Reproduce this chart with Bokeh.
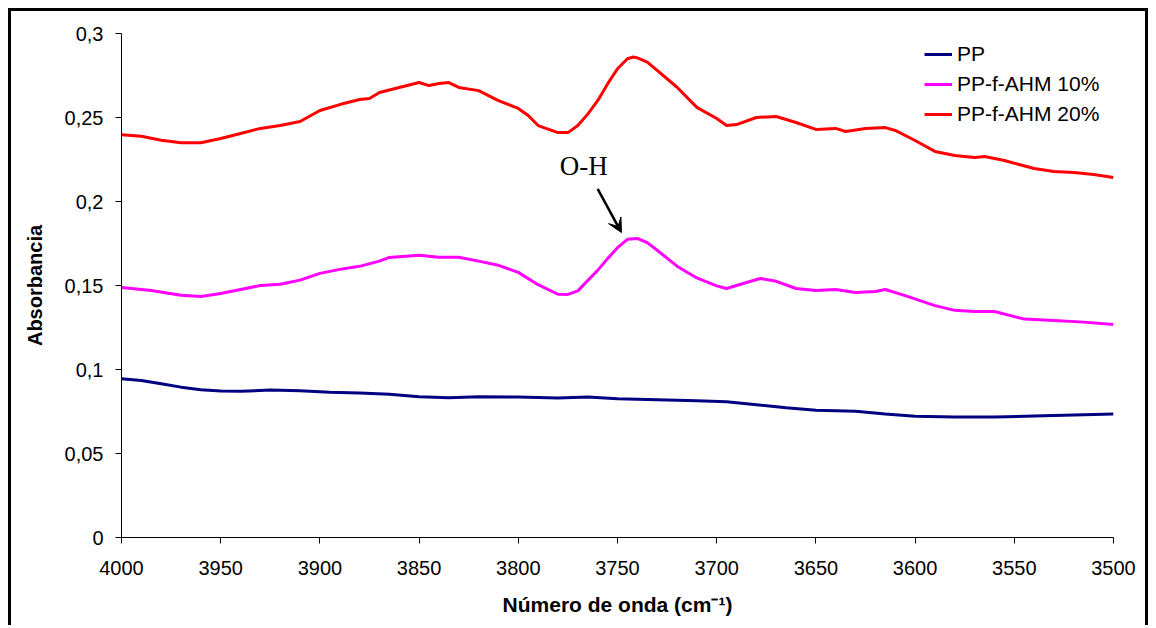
from bokeh.plotting import figure
from bokeh.models import (Range1d, FixedTicker, CustomJSTickFormatter, Legend, LegendItem,
                          Label, Arrow, VeeHead)
from bokeh.embed import file_html
from bokeh.resources import INLINE

# ---------------- data ----------------
x_ticks = [4000, 3950, 3900, 3850, 3800, 3750, 3700, 3650, 3600, 3550, 3500]
y_ticks = [0, 0.05, 0.1, 0.15, 0.2, 0.25, 0.3]

pp_x = [4000, 3990, 3980, 3970, 3960, 3950, 3940, 3925, 3910, 3895, 3880, 3865, 3850,
        3835, 3820, 3800, 3780, 3765, 3750, 3730, 3710, 3695, 3680, 3665, 3650, 3630,
        3615, 3600, 3580, 3560, 3540, 3520, 3500]
pp_y = [0.0945, 0.0935, 0.0915, 0.0895, 0.0880, 0.0872, 0.0870, 0.0878, 0.0873, 0.0864,
        0.0860, 0.0853, 0.0838, 0.0832, 0.0838, 0.0836, 0.0830, 0.0836, 0.0826, 0.0820,
        0.0814, 0.0808, 0.0790, 0.0772, 0.0758, 0.0752, 0.0735, 0.0722, 0.0717, 0.0717,
        0.0723, 0.0729, 0.0735]

pp10_x = [4000, 3985, 3970, 3960, 3950, 3940, 3930, 3920, 3910, 3900, 3890, 3880, 3870,
          3865, 3850, 3840, 3830, 3820, 3810, 3800, 3790, 3780, 3775, 3770, 3765, 3760,
          3755, 3750, 3745, 3740, 3735, 3730, 3720, 3710, 3700, 3695, 3685, 3678, 3670,
          3660, 3650, 3640, 3630, 3620, 3615, 3605, 3590, 3580, 3570, 3560, 3545, 3530,
          3515, 3500]
pp10_y = [0.1488, 0.1470, 0.1442, 0.1435, 0.1452, 0.1476, 0.1500, 0.1508, 0.1532, 0.1572,
          0.1596, 0.1614, 0.1645, 0.1667, 0.1680, 0.1668, 0.1668, 0.1645, 0.1620, 0.1578,
          0.1505, 0.1448, 0.1447, 0.1468, 0.1530, 0.1590, 0.1660, 0.1725, 0.1775, 0.1780,
          0.1755, 0.1710, 0.1615, 0.1545, 0.1498, 0.1482, 0.1518, 0.1542, 0.1525, 0.1482,
          0.1470, 0.1476, 0.1458, 0.1464, 0.1476, 0.1440, 0.1380, 0.1352, 0.1345, 0.1345,
          0.1300, 0.1292, 0.1282, 0.1268]

pp20_x = [4000, 3990, 3980, 3970, 3960, 3950, 3940, 3930, 3920, 3910, 3900, 3890, 3880,
          3875, 3870, 3860, 3850, 3845, 3840, 3835, 3830, 3820, 3810, 3800, 3795, 3790,
          3780, 3775, 3770, 3765, 3760, 3755, 3750, 3745, 3742, 3740, 3735, 3730, 3720,
          3710, 3700, 3695, 3690, 3680, 3670, 3660, 3650, 3640, 3635, 3625, 3615, 3610,
          3600, 3590, 3580, 3570, 3565, 3555, 3540, 3530, 3520, 3510, 3500]
pp20_y = [0.2398, 0.2388, 0.2365, 0.2350, 0.2350, 0.2375, 0.2405, 0.2435, 0.2452, 0.2476,
          0.2542, 0.2577, 0.2607, 0.2613, 0.2649, 0.2679, 0.2708, 0.2690, 0.2702, 0.2708,
          0.2679, 0.2660, 0.2600, 0.2554, 0.2512, 0.2452, 0.2410, 0.2410, 0.2452, 0.2520,
          0.2600, 0.2700, 0.2790, 0.2850, 0.2860, 0.2855, 0.2830, 0.2780, 0.2680, 0.2560,
          0.2494, 0.2452, 0.2458, 0.2500, 0.2506, 0.2470, 0.2429, 0.2435, 0.2417, 0.2435,
          0.2440, 0.2423, 0.2363, 0.2298, 0.2274, 0.2262, 0.2268, 0.2244, 0.2196, 0.2179,
          0.2173, 0.2161, 0.2143]

series_names = ["PP", "PP-f-AHM 10%", "PP-f-AHM 20%"]
series_colors = ["#000080", "#FF00FF", "#FF0000"]

annot_text = "O-H"
annot_pos = (3767, 0.221)
arrow_start = (3760, 0.2075)
arrow_end = (3748, 0.1815)

# ---------------- figure ----------------
W, H = 1140, 617
p = figure(width=W, height=H, output_backend="svg", toolbar_location=None,
           x_range=Range1d(4000, 3500), y_range=Range1d(0, 0.3),
           min_border_left=110, min_border_right=38, min_border_top=22,
           min_border_bottom=91, background_fill_color="white",
           border_fill_color="white")
p.styles = {"margin-left": "8px", "margin-top": "8px",
            "border-left": "3px solid black", "border-top": "3px solid black",
            "border-right": "3px solid black"}
p.outline_line_color = None
p.grid.visible = False

FONT = "Liberation Sans"
for ax in (p.xaxis[0], p.yaxis[0]):
    ax.axis_line_color = "black"
    ax.axis_line_width = 1
    ax.major_tick_line_color = "black"
    ax.major_tick_out = 6
    ax.major_tick_in = 0
    ax.minor_tick_line_color = None
    ax.major_label_text_font = FONT
    ax.major_label_text_font_size = "20px"
    ax.major_label_text_color = "black"
    ax.axis_label_text_font = FONT
    ax.axis_label_text_font_size = "20px"
    ax.axis_label_text_font_style = "bold"
    ax.axis_label_text_color = "black"

p.xaxis.axis_label_text_font_size = "21px"
p.xaxis.ticker = FixedTicker(ticks=x_ticks)
p.yaxis.ticker = FixedTicker(ticks=y_ticks)
p.yaxis.formatter = CustomJSTickFormatter(
    code="return Number(tick.toFixed(2)).toString().replace('.', ',');")
p.xaxis.major_label_standoff = 17
p.yaxis.major_label_standoff = 12
p.xaxis.axis_label = "Número de onda (cm⁻¹)"
p.yaxis.axis_label = "Absorbancia"
p.xaxis.axis_label_standoff = 15
p.yaxis.axis_label_standoff = 16

renderers = []
for xs, ys, c in ((pp_x, pp_y, series_colors[0]),
                  (pp10_x, pp10_y, series_colors[1]),
                  (pp20_x, pp20_y, series_colors[2])):
    r = p.line(xs, ys, line_color=c, line_width=3, line_join="round")
    renderers.append(r)

legend = Legend(items=[LegendItem(label=n, renderers=[r]) for n, r in zip(series_names, renderers)],
                location=(803, 411), orientation="vertical",
                label_text_font=FONT, label_text_font_size="21px",
                label_text_color="black", glyph_width=28, glyph_height=20,
                label_height=20, spacing=6, padding=0, margin=0,
                label_standoff=5, border_line_color=None,
                background_fill_alpha=0)
p.add_layout(legend)

p.add_layout(Label(x=annot_pos[0], y=annot_pos[1], text=annot_text,
                   text_font="Liberation Serif", text_font_size="27px",
                   text_align="center", text_baseline="middle", text_color="black"))
p.add_layout(Arrow(end=VeeHead(size=14, line_color="black", fill_color="black", line_width=1),
                   x_start=arrow_start[0], y_start=arrow_start[1],
                   x_end=arrow_end[0], y_end=arrow_end[1],
                   line_color="black", line_width=2.5))

open("out.html", "w").write(file_html(p, INLINE))
